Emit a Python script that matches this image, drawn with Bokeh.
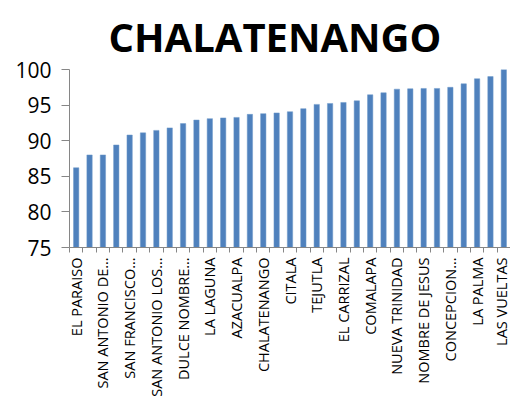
import math
from bokeh.plotting import figure
from bokeh.models import FixedTicker, Range1d, ColumnDataSource
from bokeh.embed import file_html
from bokeh.resources import INLINE

titulo = "CHALATENANGO"

municipios = [
    "EL PARAISO", "SAN RAFAEL", "SAN ANTONIO DE LA CRUZ", "SANTA RITA",
    "SAN FRANCISCO MORAZAN", "NUEVA CONCEPCION", "SAN ANTONIO LOS RANCHOS",
    "AGUA CALIENTE", "DULCE NOMBRE DE MARIA", "SAN FERNANDO", "LA LAGUNA",
    "LA REINA", "AZACUALPA", "OJOS DE AGUA", "CHALATENANGO", "POTONICO",
    "CITALA", "SAN IGNACIO", "TEJUTLA", "SAN ISIDRO LABRADOR", "EL CARRIZAL",
    "SAN LUIS DEL CARMEN", "COMALAPA", "SAN MIGUEL DE MERCEDES",
    "NUEVA TRINIDAD", "ARCATAO", "NOMBRE DE JESUS", "SAN JOSE CANCASQUE",
    "CONCEPCION QUEZALTEPEQUE", "SAN FRANCISCO LEMPA", "LA PALMA",
    "SAN JOSE LAS FLORES", "LAS VUELTAS",
]

porcentajes = [
    86.2, 88.0, 88.0, 89.4, 90.8, 91.1, 91.45, 91.8, 92.4, 92.9, 93.1,
    93.2, 93.27, 93.7, 93.8, 93.9, 94.07, 94.5, 95.1, 95.23, 95.37, 95.6,
    96.45, 96.73, 97.24, 97.29, 97.34, 97.34, 97.5, 97.99, 98.7, 99.0, 100.0,
]

tick_labels = [
    "EL PARAISO", "SAN ANTONIO DE…", "SAN FRANCISCO…", "SAN ANTONIO LOS…",
    "DULCE NOMBRE…", "LA LAGUNA", "AZACUALPA", "CHALATENANGO", "CITALA",
    "TEJUTLA", "EL CARRIZAL", "COMALAPA", "NUEVA TRINIDAD", "NOMBRE DE JESUS",
    "CONCEPCION…", "LA PALMA", "LAS VUELTAS",
]

y_ticks = [75, 80, 85, 90, 95, 100]
y_min, y_max = 75, 100

n = len(porcentajes)
x = list(range(n))
source = ColumnDataSource(dict(x=x, top=porcentajes, name=municipios))

p = figure(
    width=510, height=394, output_backend="svg", toolbar_location=None,
    x_range=Range1d(-0.5, n - 0.5), y_range=Range1d(y_min, y_max),
    frame_width=441, frame_height=178,
    min_border_left=69, min_border_right=0, min_border_top=62, min_border_bottom=0,
)
p.outline_line_color = None
p.background_fill_color = "white"
p.border_fill_color = "white"
p.xgrid.grid_line_color = None
p.ygrid.grid_line_color = None

p.vbar(x="x", top="top", bottom=y_min, width=0.4, source=source,
       fill_color="#4F81BD", line_color="#6F9ACB", line_width=0.5)

p.title.text = titulo
p.title.align = "left"
p.title.text_font = "Open Sans"
p.title.text_font_style = "bold"
p.title.text_font_size = "40px"
p.title.text_color = "black"
p.title.offset = 39
p.title.standoff = 12

axis_color = "#868686"

xa = p.xaxis[0]
xa.ticker = FixedTicker(ticks=list(range(0, n, 2)),
                        minor_ticks=[i - 0.5 for i in range(n + 1)])
xa.major_label_overrides = {2 * i: lbl for i, lbl in enumerate(tick_labels)}
xa.major_label_orientation = math.pi / 2
xa.major_label_text_font = "Open Sans"
xa.major_label_text_font_size = "14.5px"
xa.major_label_text_color = "black"
xa.major_tick_line_color = None
xa.major_tick_in = 0
xa.major_tick_out = 5
xa.minor_tick_line_color = axis_color
xa.minor_tick_in = 0
xa.minor_tick_out = 5
xa.axis_line_color = axis_color
xa.major_label_standoff = 5

ya = p.yaxis[0]
ya.ticker = FixedTicker(ticks=y_ticks)
ya.major_label_text_font = "Open Sans"
ya.major_label_text_font_size = "21px"
ya.major_label_text_color = "black"
ya.major_tick_line_color = axis_color
ya.major_tick_in = 0
ya.major_tick_out = 8
ya.minor_tick_line_color = None
ya.axis_line_color = axis_color
ya.major_label_standoff = 10

open("out.html", "w").write(file_html(p, INLINE))
